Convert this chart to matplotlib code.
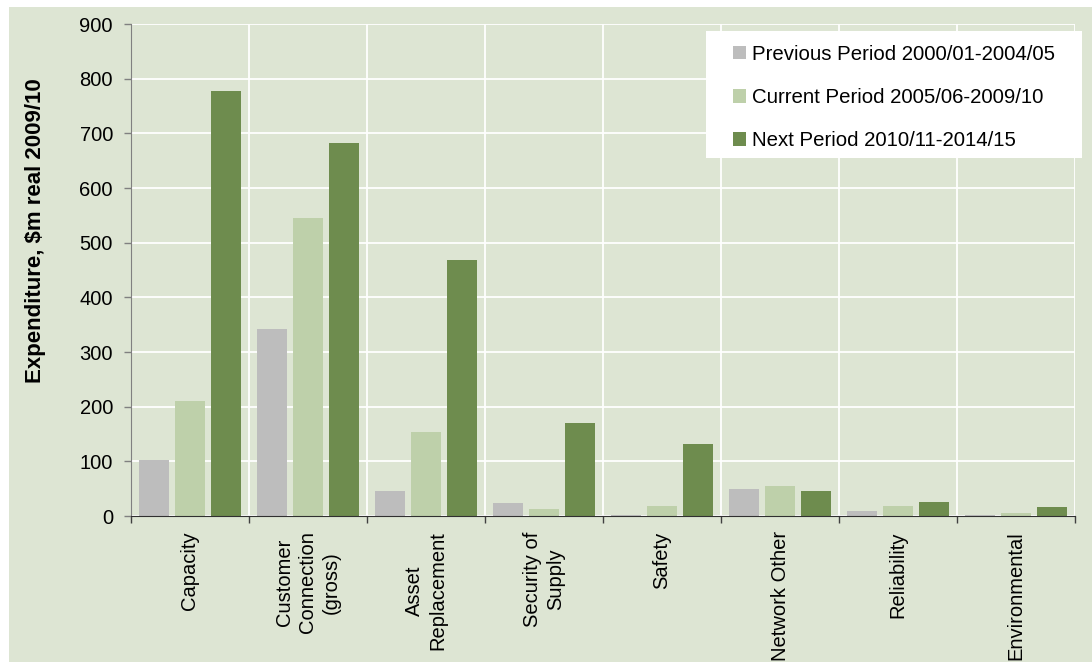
import matplotlib
matplotlib.use("Agg")
import matplotlib.pyplot as plt
import numpy as np
from matplotlib.patches import Rectangle, Patch

plt.rcParams['font.family'] = ['Liberation Sans', 'DejaVu Sans']

categories = ["Capacity", "Customer\nConnection\n(gross)", "Asset\nReplacement",
              "Security of\nSupply", "Safety", "Network Other", "Reliability",
              "Environmental"]
series_names = ["Previous Period 2000/01-2004/05",
                "Current Period 2005/06-2009/10",
                "Next Period 2010/11-2014/15"]
previous_period = [103, 342, 46, 24, 2, 49, 9, 1.5]
current_period = [210, 545, 154, 13, 18, 55, 18, 5]
next_period = [777, 682, 468, 171, 132, 45, 26, 16]
y_ticks = [0, 100, 200, 300, 400, 500, 600, 700, 800, 900]

colors = ["#BDBDBD", "#BED0AA", "#6E8C4E"]
bg = "#DDE5D3"

W, H = 1092, 662
fig = plt.figure(figsize=(W / 100, H / 100), dpi=100)
fig.patch.set_facecolor("white")
fig.add_artist(Rectangle((9 / W, 0), 1 - 9 / W, 1 - 7 / H, transform=fig.transFigure,
                         facecolor=bg, edgecolor="none", zorder=0))

ax = fig.add_axes([131 / W, 1 - 516 / H, (1075 - 131) / W, (516 - 24) / H])
ax.set_facecolor(bg)

x = np.arange(len(categories))
width = 0.254
offset = 0.305
for i, (vals, c) in enumerate(zip([previous_period, current_period, next_period], colors)):
    ax.bar(x + (i - 1) * offset, vals, width, color=c, zorder=3, linewidth=0)

ax.set_xlim(-0.5, len(categories) - 0.5)
ax.set_ylim(0, 900)
ax.set_yticks(y_ticks)
ax.set_yticklabels([str(v) for v in y_ticks], fontsize=14.5)
ax.tick_params(axis='y', direction='out', length=5, width=1, color='#808080', pad=8)

# boundary ticks (major) and category labels (minor)
ax.set_xticks(np.arange(-0.5, len(categories), 1.0))
ax.set_xticklabels([])
ax.set_xticks(x, minor=True)
ax.set_xticklabels(categories, minor=True, rotation=90, fontsize=14.5,
                   va='top', ha='center', linespacing=1.28)
for t in ax.get_xticklabels(minor=True):
    t.set_multialignment('center')
ax.tick_params(axis='x', which='major', direction='out', length=5, width=1, color='#404040')
ax.tick_params(axis='x', which='minor', length=0, pad=11)

ax.grid(True, axis='both', which='major', color='white', linewidth=1.3, zorder=0)
ax.set_axisbelow(True)
for s in ['top', 'right']:
    ax.spines[s].set_visible(False)
ax.spines['left'].set_color('#808080')
ax.spines['bottom'].set_color('#303030')
ax.spines['left'].set_zorder(4)
ax.spines['bottom'].set_zorder(4)

fig.text(36 / W, 1 - 231 / H, "Expenditure, $m real 2009/10", rotation=90,
         ha='center', va='center', fontsize=16, fontweight='bold')

# legend panel
fig.add_artist(Rectangle((706 / W, 1 - 158 / H), (1082 - 706) / W, (158 - 31) / H,
                         transform=fig.transFigure, facecolor='white',
                         edgecolor='none', zorder=5))
handles = [Patch(facecolor=c, edgecolor='none') for c in colors]
leg = fig.legend(handles, series_names, loc='upper left',
                 bbox_to_anchor=(733 / W, 1 - 45 / H), bbox_transform=fig.transFigure,
                 frameon=False, fontsize=14.7, handlelength=0.62, handleheight=0.62,
                 handletextpad=0.3, labelspacing=1.18, borderpad=0, borderaxespad=0)
leg.set_zorder(6)

fig.savefig("out.png", dpi=100, facecolor=fig.get_facecolor())
